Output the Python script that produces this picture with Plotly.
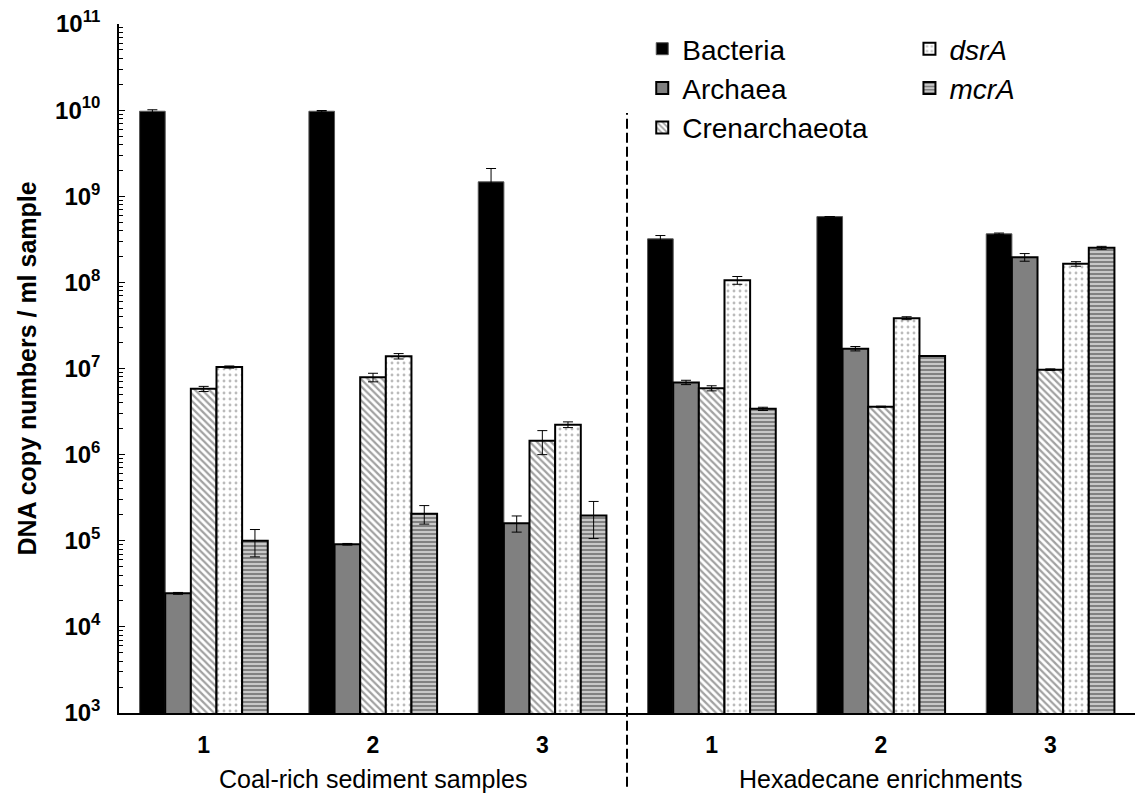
import plotly.graph_objects as go

# ---- data ----
groups = [0, 1, 2, 3, 4, 5]
group_ticktext = ["1", "2", "3", "1", "2", "3"]
section_labels = ["Coal-rich sediment samples", "Hexadecane enrichments"]

bacteria = [9.7e9, 9.7e9, 1.47e9, 3.2e8, 5.8e8, 3.66e8]
bacteria_err = [4e8, 2e8, 6.3e8, 3e7, 0, 8e6]
archaea = [2.45e4, 9.1e4, 1.6e5, 6.9e6, 1.7e7, 1.96e8]
archaea_err = [6e2, 2e3, 3.4e4, 4e5, 1e6, 2e7]
cren = [5.8e6, 7.9e6, 1.45e6, 5.9e6, 3.6e6, 9.7e6]
cren_err = [4e5, 9e5, 4.5e5, 4e5, 5e4, 2e5]
dsra = [1.04e7, 1.39e7, 2.23e6, 1.06e8, 3.84e7, 1.64e8]
dsra_err = [3e5, 1e6, 1.7e5, 1.1e7, 1.5e6, 1e7]
mcra = [1.0e5, 2.06e5, 1.96e5, 3.4e6, 1.4e7, 2.52e8]
mcra_err = [3.5e4, 5e4, 9e4, 1.5e5, 0, 1e7]

FONT = "Arial, Liberation Sans, sans-serif"

def err(arr):
    return dict(type="data", array=arr, visible=True, color="black", thickness=1, width=5)

fig = go.Figure()
fig.add_trace(go.Bar(name="Bacteria", x=groups, y=bacteria, error_y=err(bacteria_err),
                     marker=dict(color="black", line=dict(color="#555", width=1)),
                     legend="legend"))
fig.add_trace(go.Bar(name="Archaea", x=groups, y=archaea, error_y=err(archaea_err),
                     marker=dict(color="#808080", line=dict(color="black", width=2)),
                     legend="legend"))
fig.add_trace(go.Bar(name="Crenarchaeota", x=groups, y=cren, error_y=err(cren_err),
                     marker=dict(color="white", line=dict(color="black", width=2),
                                 pattern=dict(shape="\\", fgcolor="#444", bgcolor="white",
                                              size=5, solidity=0.45)),
                     legend="legend"))
fig.add_trace(go.Bar(name="<i>dsrA</i>", x=groups, y=dsra, error_y=err(dsra_err),
                     marker=dict(color="white", line=dict(color="black", width=2),
                                 pattern=dict(shape=".", fgcolor="#777", bgcolor="white",
                                              size=6, solidity=0.18)),
                     legend="legend2"))
fig.add_trace(go.Bar(name="<i>mcrA</i>", x=groups, y=mcra, error_y=err(mcra_err),
                     marker=dict(color="#888", line=dict(color="black", width=2),
                                 pattern=dict(shape="-", fgcolor="#333", bgcolor="#d0d0d0",
                                              size=4, solidity=0.55)),
                     legend="legend2"))

major = [10 ** k for k in range(3, 12)]
major_text = ["<b>10<sup>%d</sup></b>" % k for k in range(3, 12)]
minor = [m * 10 ** k for k in range(3, 11) for m in range(2, 10)]

fig.update_layout(
    width=1138, height=796,
    margin=dict(l=119, r=3, t=24, b=83),
    paper_bgcolor="white", plot_bgcolor="white",
    barmode="group", bargap=0.243, bargroupgap=0,
    font=dict(family=FONT, color="black"),
    xaxis=dict(range=[-0.5, 5.5], tickvals=groups, ticktext=group_ticktext,
               tickfont=dict(size=23, weight="bold", family=FONT),
               ticks="", showline=True, linecolor="black", linewidth=2,
               showgrid=False, zeroline=False, ticklabelstandoff=10),
    yaxis=dict(type="log", range=[3, 11], tickvals=major, ticktext=major_text,
               tickfont=dict(size=24, family=FONT),
               ticks="inside", ticklen=6, tickcolor="black", tickwidth=1,
               minor=dict(tickvals=minor, ticks="inside", ticklen=4, tickcolor="black", tickwidth=1),
               showline=True, linecolor="black", linewidth=1.5,
               showgrid=False, zeroline=False, ticklabelstandoff=12),
    legend=dict(x=0.515, y=1.0, xanchor="left", yanchor="top",
                font=dict(size=28, family=FONT), bgcolor="rgba(0,0,0,0)",
                tracegroupgap=0, itemwidth=30),
    legend2=dict(x=0.778, y=1.0, xanchor="left", yanchor="top",
                 font=dict(size=28, family=FONT), bgcolor="rgba(0,0,0,0)",
                 tracegroupgap=0, itemwidth=30),
    showlegend=True,
)

fig.add_shape(type="line", xref="x", yref="paper", x0=2.5, x1=2.5, y0=-0.107, y1=0.871,
              line=dict(color="black", width=2, dash="10px,4px"))

fig.add_annotation(text=section_labels[0], x=1, y=-0.0958, xref="x", yref="paper",
                   showarrow=False, font=dict(size=25, family=FONT), yanchor="middle")
fig.add_annotation(text=section_labels[1], x=4, y=-0.0958, xref="x", yref="paper",
                   showarrow=False, font=dict(size=25, family=FONT), yanchor="middle")
fig.add_annotation(text="<b>DNA copy numbers / ml sample</b>", textangle=-90,
                   x=(26 - 119) / 1016, y=0.5, xref="paper", yref="paper", showarrow=False,
                   font=dict(size=25, family=FONT), xanchor="center", yanchor="middle")

fig.write_html("out.html")
